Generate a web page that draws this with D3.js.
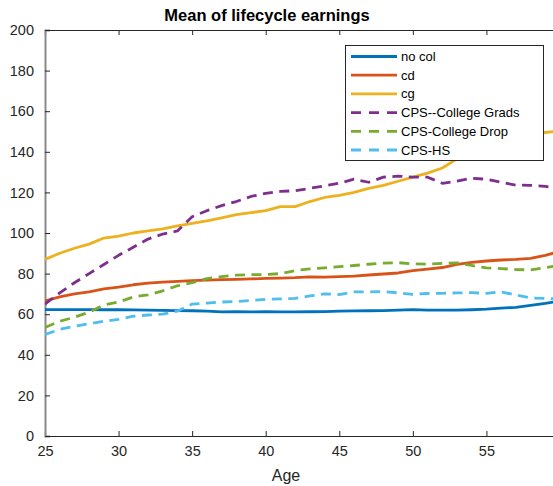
<!DOCTYPE html>
<html><head><meta charset="utf-8">
<script src="https://cdn.jsdelivr.net/npm/d3@7"></script>
<style>body{margin:0;background:#fff}svg{display:block;font-family:"Liberation Sans",Arial,Helvetica,sans-serif}</style>
</head><body><svg id="c" width="553" height="486"></svg>
<script>
const ages = d3.range(25, 61);
const noCol = [62.3,62.3,62.3,62.3,62.2,62.2,62.1,62,61.9,61.8,61.7,61.5,61.1,61.2,61.1,61.2,61.1,61.1,61.2,61.3,61.5,61.6,61.7,61.8,62,62.3,62,62,62,62.2,62.5,63,63.4,64.3,65.3,66.5];
const cd = [66.5,68.5,70,71,72.5,73.3,74.5,75.3,75.8,76.2,76.5,76.8,77,77.2,77.4,77.6,77.8,78,78.4,78.3,78.5,78.8,79.3,79.8,80.3,81.5,82.2,83,84.5,85.5,86.2,86.7,87,87.5,89,91];
const cg = [87,90,92.5,94.5,97.5,98.5,100,101,102,103.5,104.8,106,107.5,109,110,111,113,113,115.5,117.5,118.5,120,122,123.5,125.5,127.5,129.5,132,136.5,141,144,146,147.5,148.7,149.5,150.3];
const cpsGrads = [65,70.5,75.5,80,84.5,89,93,97,99.5,101,108,111,113.5,115.5,118,119.5,120.5,120.8,122,123.2,124.5,126.5,125,127.5,128,127.5,127.5,124.5,125.5,127,126.5,125,123.6,123.5,123,121.5];
const cpsDrop = [53.5,56.5,58.5,61,64.5,66,68.5,69.5,71.5,74,75.5,77.5,78.5,79.2,79.5,79.5,80,81.5,82.3,82.8,83.4,84,84.6,85.2,85.4,84.8,84.7,85,85.3,84,82.8,82.5,82,81.8,83,84];
const cpsHS = [50,52.5,54,55.3,56.5,57.5,59,59.6,60,61.5,65,65.5,66,66.2,66.8,67.3,67.5,67.8,69,70,69.7,71,71,71.1,70.5,69.8,70.2,70.3,70.5,70.6,70.3,71,69.5,68,67.8,67.5];
const xTicks = [25,30,35,40,45,50,55];
const yTicks = [0,20,40,60,80,100,120,140,160,180,200];
const seriesNames = ["no col","cd","cg","CPS--College Grads","CPS-College Drop","CPS-HS"];
const seriesData = [noCol, cd, cg, cpsGrads, cpsDrop, cpsHS];
const colors = ["#0072BD","#D95319","#EDB120","#7E2F8E","#77AC30","#4DBEEE"];
const dashed = [false,false,false,true,true,true];

const svg = d3.select("#c");
const L = 45, T = 30, B = 436, R = 560;
const x = d3.scaleLinear().domain([25, 60]).range([L, R]);
const y = d3.scaleLinear().domain([0, 200]).range([B, T]);

svg.append("clipPath").attr("id","clip").append("rect").attr("x",L).attr("y",T).attr("width",R-L).attr("height",B-T);

const gx = svg.append("g").attr("transform",`translate(0,${B})`)
  .call(d3.axisBottom(x).tickValues(xTicks).tickSize(-5).tickPadding(10).tickFormat(d3.format("d")));
const gxt = svg.append("g").attr("transform",`translate(0,${T})`)
  .call(d3.axisTop(x).tickValues(xTicks).tickSize(-5).tickFormat(""));
const gy = svg.append("g").attr("transform",`translate(${L},0)`)
  .call(d3.axisLeft(y).tickValues(yTicks).tickSize(-5).tickPadding(11).tickFormat(d3.format("d")));
[gx,gxt,gy].forEach(g=>{
  g.select(".domain").attr("stroke","#262626").attr("stroke-width",1.2);
  g.selectAll(".tick line").attr("stroke","#262626");
  g.selectAll(".tick text").attr("fill","#262626").style("font-size","14.5px");
});
gy.select(".domain").attr("stroke","#8a8a8a").attr("stroke-width",2);
gx.selectAll(".tick text").attr("dy","0.71em");

const line = d3.line().x((d,i)=>x(ages[i])).y(d=>y(d));
const plot = svg.append("g").attr("clip-path","url(#clip)");
seriesData.forEach((s,k)=>{
  plot.append("path").datum(s).attr("d",line).attr("fill","none")
    .attr("stroke",colors[k]).attr("stroke-width",2.8)
    .attr("stroke-linejoin","round")
    .attr("stroke-dasharray",dashed[k]?"10,6.5":null);
});

svg.append("text").attr("x",267).attr("y",21).attr("text-anchor","middle")
  .style("font-weight","bold").style("font-size","16.5px").attr("fill","#000").text("Mean of lifecycle earnings");
svg.append("text").attr("x",286).attr("y",481).attr("text-anchor","middle")
  .style("font-size","16px").attr("fill","#262626").text("Age");

const lg = svg.append("g");
lg.append("rect").attr("x",345.5).attr("y",45.5).attr("width",198).attr("height",115)
  .attr("fill","#fff").attr("stroke","#262626").attr("stroke-width",1);
seriesNames.forEach((n,k)=>{
  const yy = 56.5 + k*18.7;
  lg.append("line").attr("x1",351).attr("x2",397).attr("y1",yy).attr("y2",yy)
    .attr("stroke",colors[k]).attr("stroke-width",2.8)
    .attr("stroke-dasharray",dashed[k]?"10,8":null);
  lg.append("text").attr("x",401).attr("y",yy).attr("dy","0.35em")
    .style("font-size","13px").attr("fill","#000").text(n);
});
</script></body></html>
